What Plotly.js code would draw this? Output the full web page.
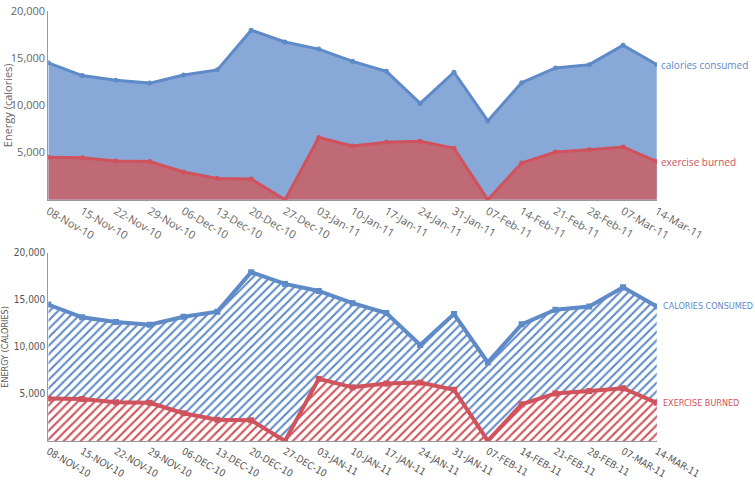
<!DOCTYPE html>
<html>
<head>
<meta charset="utf-8">
<script src="https://cdn.plot.ly/plotly-3.0.1.min.js"></script>
<style>html,body{margin:0;padding:0;background:#fff}#chart{width:755px;height:491px}</style>
</head>
<body>
<div id="chart"></div>
<script>
const weeks = ['08-Nov-10','15-Nov-10','22-Nov-10','29-Nov-10','06-Dec-10','13-Dec-10','20-Dec-10','27-Dec-10',
    '03-Jan-11','10-Jan-11','17-Jan-11','24-Jan-11','31-Jan-11','07-Feb-11','14-Feb-11','21-Feb-11','28-Feb-11','07-Mar-11','14-Mar-11'];
const consumed = [14500,13150,12650,12350,13200,13750,17950,16700,15950,14650,13600,10200,13500,8350,12400,13950,14300,16350,14300];
const burned = [4500,4450,4100,4050,2950,2250,2200,0,6600,5700,6100,6200,5450,0,3900,5050,5300,5600,4050];
const yTicks = [5000,10000,15000,20000];
const yTickText = ['5,000','10,000','15,000','20,000'];

const BLUE = '#5f8ac8', BLUE_FILL = '#88a8d8';
const RED = '#cf525c', RED_FILL = '#c06a76';
const sketchWeeks = weeks.map(w => w.toUpperCase());

const traces = [
    { x: weeks, y: consumed, xaxis: 'x', yaxis: 'y', type: 'scatter', mode: 'lines+markers', fill: 'tozeroy',
      fillcolor: BLUE_FILL, line: { color: BLUE, width: 3 }, marker: { color: BLUE, size: 5 } },
    { x: weeks, y: burned, xaxis: 'x', yaxis: 'y', type: 'scatter', mode: 'lines+markers', fill: 'tozeroy',
      fillcolor: RED_FILL, line: { color: RED, width: 3 }, marker: { color: RED, size: 5 } },
    // sketchy version
    { x: sketchWeeks, y: consumed, xaxis: 'x2', yaxis: 'y2', type: 'scatter', mode: 'lines+markers', fill: 'tozeroy',
      fillcolor: 'rgba(0,0,0,0)', fillpattern: { shape: '/', fgcolor: BLUE, bgcolor: '#fff', size: 6, solidity: 0.35 },
      line: { color: BLUE, width: 4 }, marker: { color: BLUE, size: 6, symbol: 'square' } },
    { x: sketchWeeks, y: burned, xaxis: 'x2', yaxis: 'y2', type: 'scatter', mode: 'lines+markers', fill: 'tozeroy',
      fillcolor: 'rgba(0,0,0,0)', fillpattern: { shape: '/', fgcolor: RED, bgcolor: '#fff', size: 6, solidity: 0.35 },
      line: { color: RED, width: 4 }, marker: { color: RED, size: 6, symbol: 'square' } }
];

const xBase = { showgrid: false, zeroline: false, showline: true, linecolor: '#999', linewidth: 1,
    ticks: '', tickangle: 30, fixedrange: true, range: [0, weeks.length - 1] };
const yBase = { showgrid: false, zeroline: false, showline: true, linecolor: '#999', linewidth: 1,
    range: [0, 20000], tickvals: yTicks, ticktext: yTickText, ticks: '', fixedrange: true };

const last = weeks.length - 1;
const layout = {
    paper_bgcolor: '#fff', plot_bgcolor: '#fff',
    showlegend: false,
    margin: { t: 0, b: 0, l: 0, r: 0 },
    font: { family: 'Open Sans', color: '#666', size: 11 },
    xaxis: { ...xBase, domain: [0.064, 0.87], anchor: 'y', tickfont: { size: 11, color: '#666' } },
    yaxis: { ...yBase, domain: [0.593, 0.978], anchor: 'x',
        tickfont: { size: 11, color: '#666' },
        title: { text: 'Energy (calories)', font: { size: 11, color: '#666' }, standoff: 4 } },
    xaxis2: { ...xBase, domain: [0.064, 0.87], anchor: 'y2',
        tickfont: { family: 'DejaVu Sans Condensed', size: 10, color: '#555' } },
    yaxis2: { ...yBase, domain: [0.102, 0.485], anchor: 'x2',
        tickfont: { family: 'DejaVu Sans Condensed', size: 10, color: '#555' },
        title: { text: 'ENERGY (CALORIES)', font: { family: 'DejaVu Sans Condensed', size: 9, color: '#555' }, standoff: 4 } },
    annotations: [
        { x: weeks[last], y: consumed[last], xref: 'x', yref: 'y', text: 'calories consumed', showarrow: false,
          xanchor: 'left', xshift: 2, font: { color: BLUE, size: 10 } },
        { x: weeks[last], y: burned[last], xref: 'x', yref: 'y', text: 'exercise burned', showarrow: false,
          xanchor: 'left', xshift: 2, font: { color: RED, size: 10 } },
        { x: sketchWeeks[last], y: consumed[last], xref: 'x2', yref: 'y2', text: 'CALORIES CONSUMED', showarrow: false,
          xanchor: 'left', xshift: 4, font: { family: 'DejaVu Sans Condensed', color: BLUE, size: 9 } },
        { x: sketchWeeks[last], y: burned[last], xref: 'x2', yref: 'y2', text: 'EXERCISE BURNED', showarrow: false,
          xanchor: 'left', xshift: 4, font: { family: 'DejaVu Sans Condensed', color: RED, size: 9 } }
    ]
};

Plotly.newPlot('chart', traces, layout, { displayModeBar: false, staticPlot: true });
</script>
</body>
</html>
